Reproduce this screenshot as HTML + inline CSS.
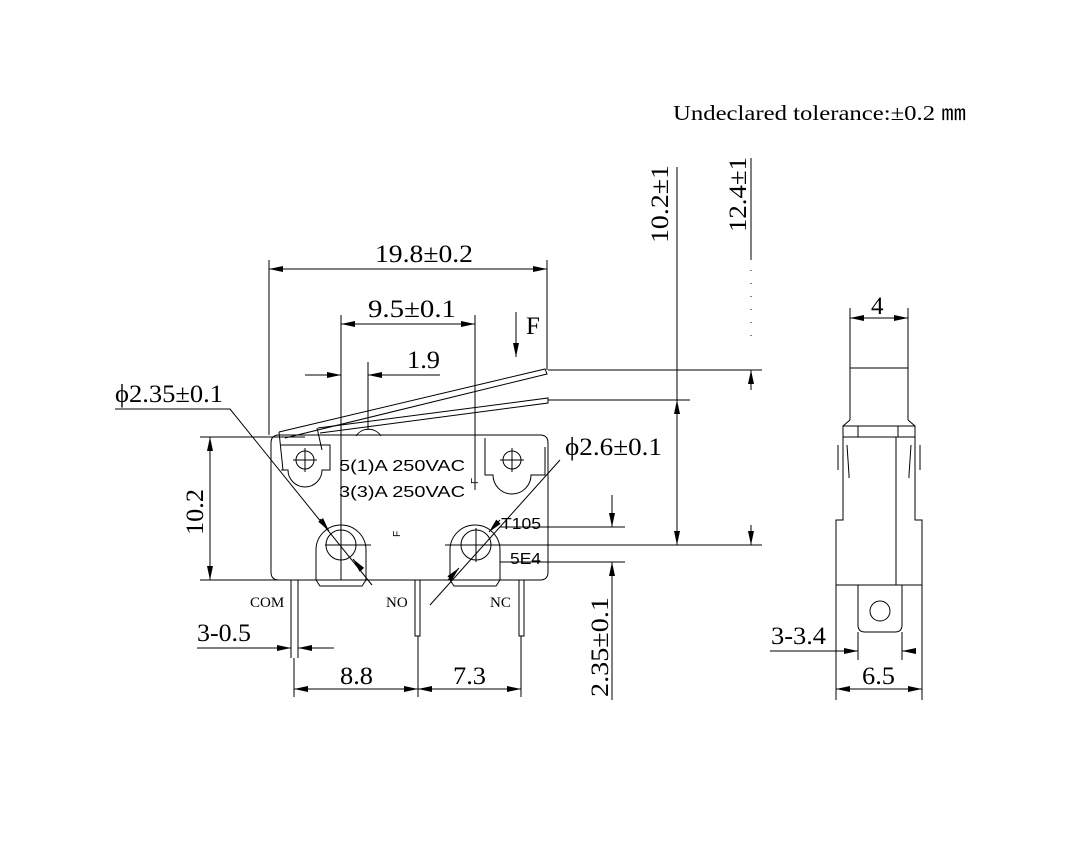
<!DOCTYPE html>
<html><head><meta charset="utf-8"><style>
body{margin:0;background:#fff;}
svg{display:block;}
text{font-family:"Liberation Serif",serif;fill:#000;}
.d{font-size:25px;}
</style></head><body>
<svg width="1069" height="841" viewBox="0 0 1069 841" xmlns="http://www.w3.org/2000/svg">
<defs>
<marker id="a" markerWidth="14" markerHeight="6" refX="14" refY="3" orient="auto-start-reverse" markerUnits="userSpaceOnUse"><path d="M0,0 L14,3 L0,6 Z" fill="#000"/></marker>
</defs>
<text x="673" y="120" font-size="21" textLength="293" lengthAdjust="spacingAndGlyphs">Undeclared tolerance:±0.2 ㎜</text>
<g stroke="#000" stroke-width="1" fill="none">
<path d="M279,435 H540 Q548,435 548,443 V572 Q548,580 540,580 H279 Q271,580 271,572 V443 Q271,435 279,435 Z"/>
<path d="M281,445 H330 V470 H322 A17,17 0 0 1 288,470 H281"/>
<circle cx="305" cy="460" r="9"/><path d="M293,460 H317 M305,448 V472"/>
<path d="M485,438 V475 H493 A19,19 0 0 0 531,475 H545 V447"/>
<circle cx="512" cy="460" r="9"/><path d="M500,460 H524 M512,448 V472"/>
<path d="M316,580 V550 A25,25 0 0 1 366,550 V580 L362,586 H320 Z"/>
<circle cx="341" cy="545" r="15"/><path d="M325,545 H371 M341,528 V562"/>
<path d="M450,580 V550 A25,25 0 0 1 500,550 V580 L496,586 H454 Z"/>
<circle cx="476" cy="545" r="15"/><path d="M445,545 H506 M476,528 V562"/>
<path d="M279,432 L545,369 L547,374 L285,438"/>
<path d="M318,428 L548,398 L548,403 L320,433"/>
<path d="M279,432 L283,470 M317,428 L322,450"/>
<path d="M356,436 A15,15 0 0 1 381,436"/>
<path d="M291,580 V658 M298,580 V658"/>
<path d="M415,580 V636 H420 V580"/>
<path d="M519,580 V636 H524 V580"/>
<path d="M269,260 V435 M547,260 V370"/>
<path d="M269,269 H547" marker-start="url(#a)" marker-end="url(#a)"/>
<path d="M341,315 V580 M475,315 V490"/>
<path d="M341,324 H475" marker-start="url(#a)" marker-end="url(#a)"/>
<path d="M368,362 V430"/>
<path d="M305,375 H341" marker-end="url(#a)"/>
<path d="M440,375 H368" marker-end="url(#a)"/>
<path d="M516,312 V357" marker-end="url(#a)"/>
<path d="M548,370 H762 M548,400 H690 M480,545 H762"/>
<path d="M677,167 V545 M751,158 V260"/>
<path d="M751,270 V340" stroke-dasharray="1,12"/>
<path d="M677,420 V400" marker-end="url(#a)"/>
<path d="M677,525 V545" marker-end="url(#a)"/>
<path d="M751,390 V370" marker-end="url(#a)"/>
<path d="M751,525 V545" marker-end="url(#a)"/>
<path d="M500,527 H625 M500,562 H625"/>
<path d="M612,495 V527" marker-end="url(#a)"/>
<path d="M612,595 V562" marker-end="url(#a)"/>
<path d="M612,562 V700"/>
<path d="M200,437 H305 M200,580 H290"/>
<path d="M210,455 V437" marker-end="url(#a)"/>
<path d="M210,560 V580" marker-end="url(#a)"/>
<path d="M210,455 V560"/>
<path d="M115,409 H230 L372,585"/>
<path d="M320,519 L329,531" marker-end="url(#a)"/>
<path d="M362,570 L353,559" marker-end="url(#a)"/>
<path d="M560,460 L430,605"/>
<path d="M500,520 L489,532" marker-end="url(#a)"/>
<path d="M448,580 L459,568" marker-end="url(#a)"/>
<path d="M197,648 H291" marker-end="url(#a)"/>
<path d="M334,648 H298" marker-end="url(#a)"/>
<path d="M294,658 V697 M418,636 V697 M521,636 V697"/>
<path d="M294,689 H418" marker-start="url(#a)" marker-end="url(#a)"/>
<path d="M418,689 H521" marker-start="url(#a)" marker-end="url(#a)"/>
<path d="M850,308 V420 M908,308 V420 M850,368 H908"/>
<path d="M850,318 H908" marker-start="url(#a)" marker-end="url(#a)"/>
<path d="M850,420 L843,426 V520 H836 V585 M908,420 L915,426 V520 H922 V585"/>
<path d="M843,426 H915 M843,437 H915 M858,437 V426 M898,437 V426 M896,437 V585"/>
<path d="M847,445 L849,475 V478 M911,445 L909,475 V478 M838,445 V470 M920,445 V470"/>
<path d="M836,585 H922 M836,520 V700 M922,585 V700"/>
<path d="M858,585 V625 Q858,632 865,632 H895 Q902,632 902,625 V585"/>
<circle cx="880" cy="611" r="10"/>
<path d="M770,651 H858" marker-end="url(#a)"/>
<path d="M916,651 H902" marker-end="url(#a)"/>
<path d="M858,632 V660 M902,632 V660"/>
<path d="M836,689 H922" marker-start="url(#a)" marker-end="url(#a)"/>
</g>
<g class="d">
<text x="375" y="262" textLength="98" lengthAdjust="spacingAndGlyphs">19.8±0.2</text>
<text x="368" y="317" textLength="88" lengthAdjust="spacingAndGlyphs">9.5±0.1</text>
<text x="407" y="368" textLength="33" lengthAdjust="spacingAndGlyphs">1.9</text>
<text x="526" y="334">F</text>
<text x="115" y="402" textLength="108" lengthAdjust="spacingAndGlyphs">ϕ2.35±0.1</text>
<text x="565" y="455" textLength="97" lengthAdjust="spacingAndGlyphs">ϕ2.6±0.1</text>
<text x="197" y="641" textLength="54" lengthAdjust="spacingAndGlyphs">3-0.5</text>
<text x="340" y="684" textLength="33" lengthAdjust="spacingAndGlyphs">8.8</text>
<text x="453" y="684" textLength="33" lengthAdjust="spacingAndGlyphs">7.3</text>
<text x="771" y="644" textLength="55" lengthAdjust="spacingAndGlyphs">3-3.4</text>
<text x="862" y="684" textLength="33" lengthAdjust="spacingAndGlyphs">6.5</text>
<text x="871" y="314">4</text>
<text transform="translate(203,535) rotate(-90)" textLength="46" lengthAdjust="spacingAndGlyphs">10.2</text>
<text transform="translate(668,243) rotate(-90)" textLength="78" lengthAdjust="spacingAndGlyphs">10.2±1</text>
<text transform="translate(746,232) rotate(-90)" textLength="75" lengthAdjust="spacingAndGlyphs">12.4±1</text>
<text transform="translate(608,697) rotate(-90)" textLength="100" lengthAdjust="spacingAndGlyphs">2.35±0.1</text>
</g>
<g font-size="16" fill="#333">
<text x="339" y="471" textLength="126" lengthAdjust="spacingAndGlyphs" style="font-family:'Liberation Sans',sans-serif">5(1)A 250VAC</text>
<text x="339" y="497" textLength="126" lengthAdjust="spacingAndGlyphs" style="font-family:'Liberation Sans',sans-serif">3(3)A 250VAC</text>
<text x="501" y="529" textLength="40" lengthAdjust="spacingAndGlyphs" style="font-family:'Liberation Sans',sans-serif">T105</text>
<text x="510" y="564" textLength="31" lengthAdjust="spacingAndGlyphs" style="font-family:'Liberation Sans',sans-serif">5E4</text>
<text transform="translate(400,537) rotate(-90)" font-size="10" style="font-family:'Liberation Sans',sans-serif">F</text>
<text transform="translate(478,484) rotate(-90)" font-size="10" style="font-family:'Liberation Sans',sans-serif">F</text>
</g>
<g font-size="15">
<text x="250" y="607">COM</text>
<text x="386" y="607">NO</text>
<text x="490" y="607">NC</text>
</g>
</svg>
</body></html>
